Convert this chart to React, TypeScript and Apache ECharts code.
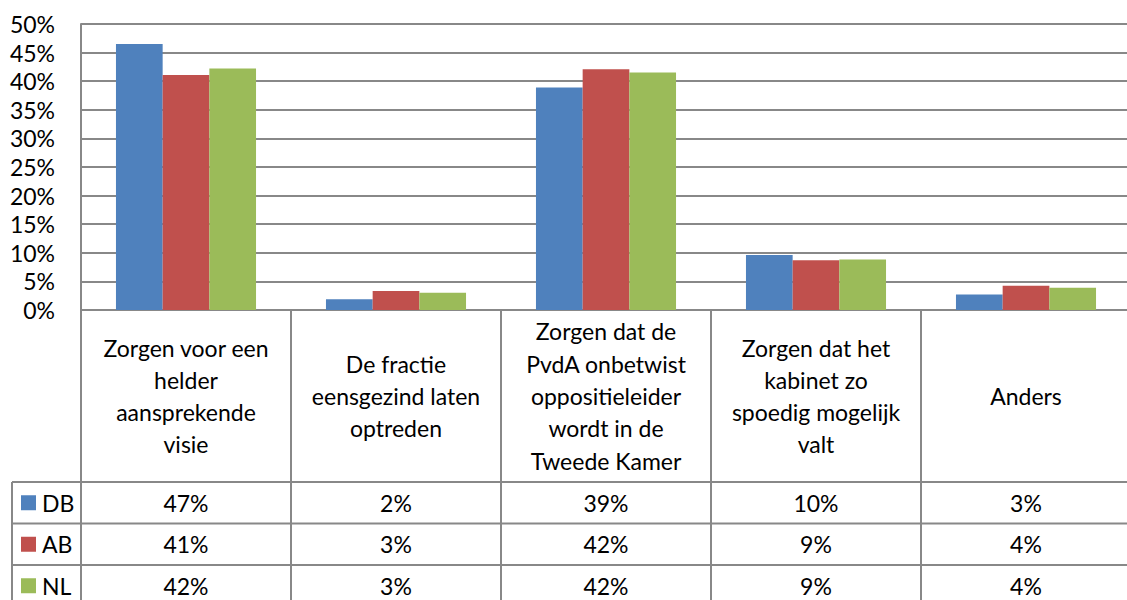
import React, { useEffect, useRef } from "react";
import * as echarts from "echarts";

const categories = [
  "Zorgen voor een\nhelder\naansprekende\nvisie",
  "De fractie\neensgezind laten\noptreden",
  "Zorgen dat de\nPvdA onbetwist\noppositieleider\nwordt in de\nTweede Kamer",
  "Zorgen dat het\nkabinet zo\nspoedig mogelijk\nvalt",
  "Anders",
];
const seriesNames = ["DB", "AB", "NL"];
const seriesColors = ["#4F81BD", "#C0504D", "#9BBB59"];
const dbValues = [46.5, 1.9, 38.9, 9.6, 2.7];
const abValues = [41.1, 3.3, 42.1, 8.7, 4.25];
const nlValues = [42.2, 3.0, 41.5, 8.85, 3.9];
const yTicks = { min: 0, max: 50, interval: 5 };

const FONT = "Lato";
const FS = 23;
const GRAY = "#888888";

export default function App() {
  const ref = useRef<HTMLDivElement>(null);
  useEffect(() => {
    if (!ref.current) return;
    const chart = echarts.init(ref.current, null, { renderer: "svg" });
    const allValues = [dbValues, abValues, nlValues];
    const plotBottom = 310;
    const rowEdges = [482, 523.5, 565, 606.5];
    const rowCenters = [0, 1, 2].map((i) => (rowEdges[i] + rowEdges[i + 1]) / 2);

    const tableAxes = allValues.map((vals, i) => ({
      type: "category",
      gridIndex: 0,
      position: "bottom",
      data: vals.map((v) => Math.round(v) + "%"),
      axisLine: { show: false },
      axisTick: { show: false },
      splitLine: { show: false },
      axisLabel: {
        interval: 0,
        margin: rowCenters[i] - plotBottom,
        verticalAlign: "middle",
        fontFamily: FONT,
        fontSize: FS,
        color: "#000",
      },
    }));

    const graphic: any[] = [];
    rowEdges.forEach((y) => {
      graphic.push({
        type: "line",
        shape: { x1: 12, y1: y, x2: 1140, y2: y },
        style: { stroke: GRAY, lineWidth: 2 },
        silent: true,
      });
    });
    graphic.push({
      type: "line",
      shape: { x1: 12, y1: rowEdges[0], x2: 12, y2: 620 },
      style: { stroke: GRAY, lineWidth: 2 },
    });
    seriesNames.forEach((name, i) => {
      graphic.push({
        type: "rect",
        shape: { x: 21, y: rowCenters[i] - 7.5, width: 15, height: 15 },
        style: { fill: seriesColors[i] },
      });
      graphic.push({
        type: "text",
        x: 42,
        y: rowCenters[i],
        style: {
          text: name,
          fontFamily: FONT,
          fontSize: FS,
          fill: "#000",
          verticalAlign: "middle",
          align: "left",
        },
      });
    });

    chart.setOption({
      animation: false,
      grid: {
        left: 81,
        width: 1050,
        top: 24,
        bottom: 600 - plotBottom,
        containLabel: false,
        outerBoundsMode: "none",
      },
      xAxis: [
        {
          type: "category",
          data: categories,
          position: "bottom",
          axisLine: { show: true, lineStyle: { color: GRAY, width: 2 } },
          axisTick: {
            show: true,
            interval: 0,
            length: 310,
            lineStyle: { color: GRAY, width: 2 },
          },
          axisLabel: {
            interval: 0,
            margin: 86,
            verticalAlign: "middle",
            lineHeight: 32.3,
            fontFamily: FONT,
            fontSize: FS,
            color: "#000",
          },
        },
        ...tableAxes,
      ],
      yAxis: {
        type: "value",
        min: yTicks.min,
        max: yTicks.max,
        interval: yTicks.interval,
        axisLine: { show: true, lineStyle: { color: GRAY, width: 2 } },
        axisTick: { show: false },
        splitLine: { show: true, lineStyle: { color: GRAY, width: 2 } },
        axisLabel: {
          formatter: "{value}%",
          margin: 26,
          fontFamily: FONT,
          fontSize: FS,
          color: "#000",
        },
      },
      series: allValues.map((vals, i) => ({
        type: "bar",
        name: seriesNames[i],
        data: vals,
        xAxisIndex: 0,
        barGap: "0%",
        barCategoryGap: "33.3%",
        itemStyle: { color: seriesColors[i] },
      })),
      graphic,
    });
    return () => chart.dispose();
  }, []);
  return <div ref={ref} style={{ width: 1127, height: 600, position: "absolute", left: 0, top: 0 }} />;
}
